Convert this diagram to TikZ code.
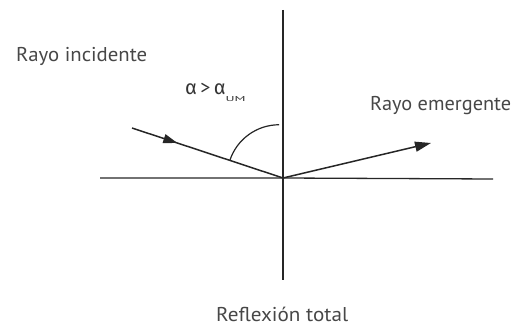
\documentclass[tikz,border=0pt]{standalone}
\usepackage{fontspec}
\usepackage{graphicx}
\setmainfont{PT Sans}
\newfontfamily\greekfont{Fira Sans}
\newcommand\bigtxt{\fontsize{20}{24}\selectfont}
\newcommand\fitw[2]{\resizebox{#1}{\height}{\bigtxt #2}}
\usetikzlibrary{arrows.meta,decorations.markings}
\begin{document}
\begin{tikzpicture}[x=1pt,y=-1pt,
  axis/.style={line width=1.3pt,black!85},
  ray/.style={line width=1.5pt,black!85},
  lbl/.style={text=black!72,inner sep=0pt},
  tip/.style={-{Triangle[length=16pt,width=10pt]}}]
\useasboundingbox (0,0) rectangle (518,328);
\coordinate (O) at (283,178);
\coordinate (top) at (283,10);
\coordinate (bot) at (283,280);
\coordinate (L) at (100,178);
\coordinate (R) at (493,179);
\coordinate (in) at (132,128);
\coordinate (out) at (431,143);
\draw[axis] (top) -- (bot);
\draw[axis] (L) -- (O) -- (R);
\draw[ray,postaction={decorate},decoration={markings,mark=at position 0.3 with {\arrow{Triangle[length=14pt,width=9pt]}}}] (in) -- (O);
\draw[ray,tip] (O) -- (out);
\draw[line width=1.2pt,black!85] (O) ++(198.3:56) arc[start angle=198.3,end angle=270,radius=52];
\node[lbl,anchor=base west] (ri) at (16,62) {\fitw{131pt}{Rayo incidente}};
\node[lbl,anchor=base west] (re) at (370,111) {\fitw{141pt}{Rayo emergente}};
\node[lbl,anchor=base west] (rt) at (216,321) {\fitw{132pt}{Reflexión total}};
\node[lbl,anchor=base west,text=black!80] (al) at (185,95) {\bigtxt{\greekfont α}\,>\,{\greekfont α}\raisebox{-7pt}{\resizebox{20pt}{5pt}{\fontsize{8}{8}\selectfont UM}}};
\end{tikzpicture}
\end{document}
